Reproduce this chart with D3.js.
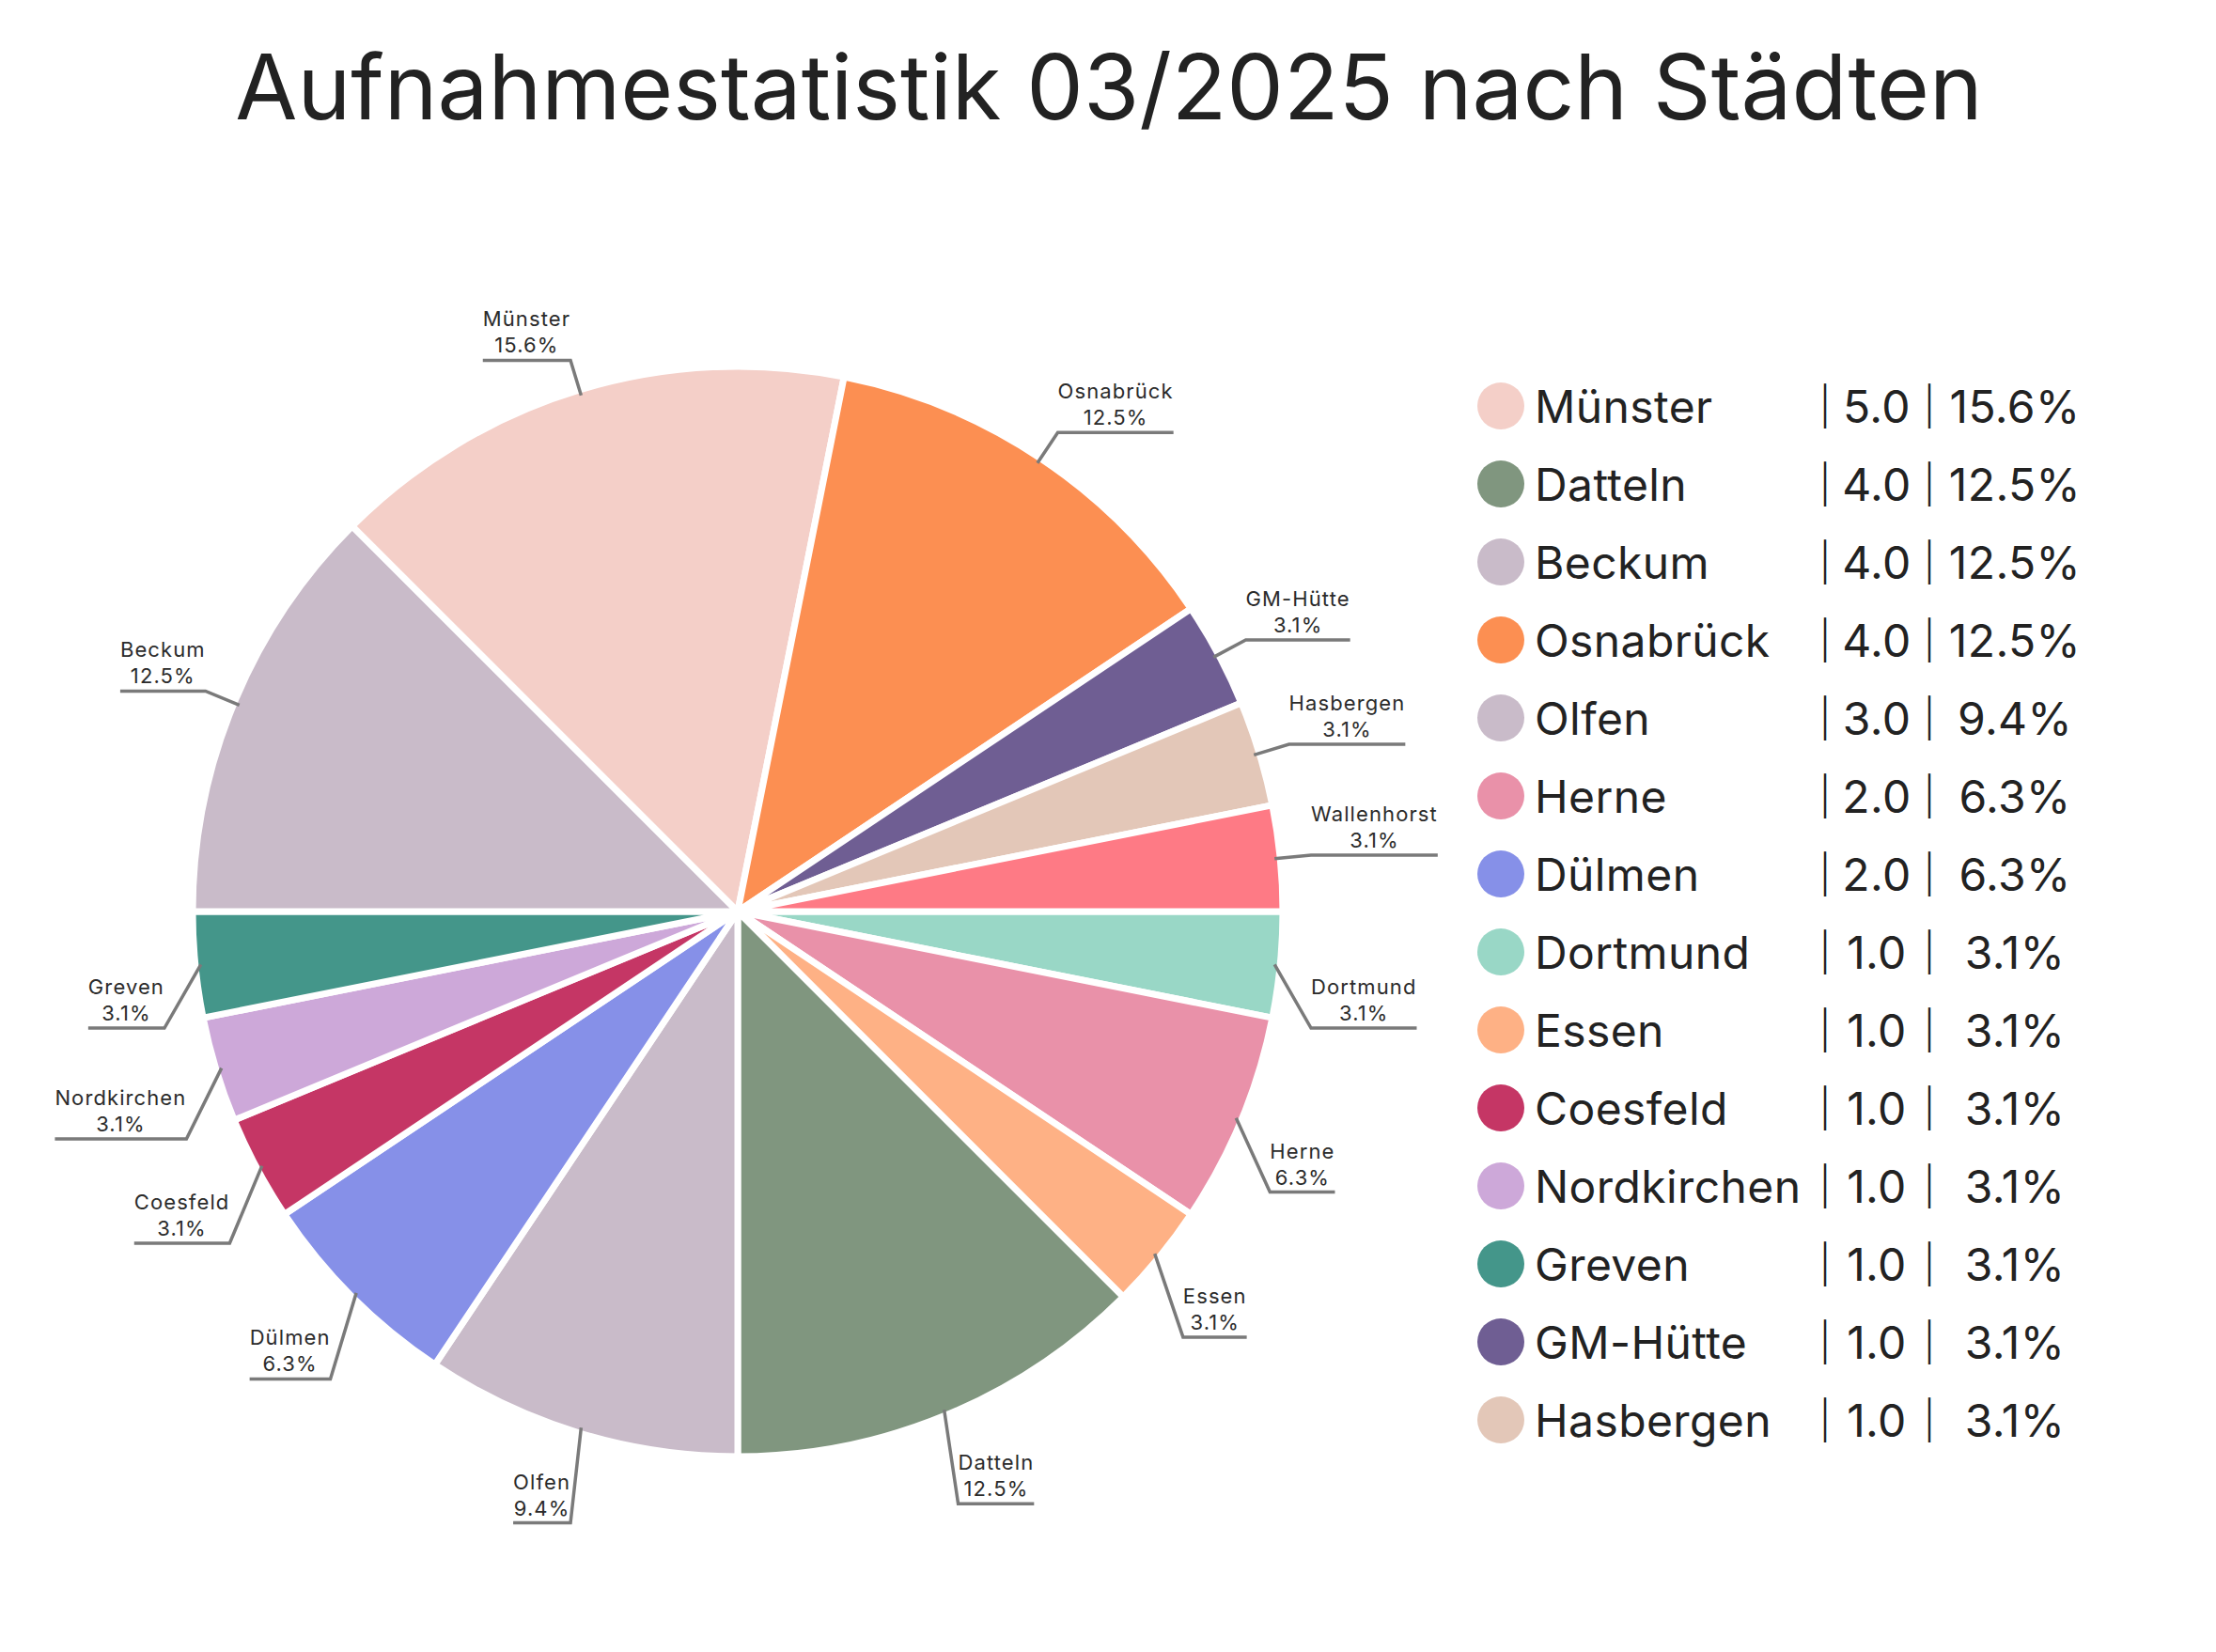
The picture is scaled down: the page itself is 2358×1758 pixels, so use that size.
<!DOCTYPE html>
<html lang="de">
<head>
    <meta charset="UTF-8">
    <title>Aufnahmestatistik 03/2025 nach Städten</title>

    <script src="https://d3js.org/d3.v7.min.js"></script>

    <style>
        body {
            margin: 0;
            background: #ffffff;
        }
        svg {
            display: block;
            font-family: Inter, "Noto Sans", sans-serif;
        }
        .title {
            font-size: 96px;
            fill: #222222;
        }
        .slice_label {
            font-size: 22px;
            letter-spacing: 1.1px;
            fill: #2b2b2b;
        }
        .legend_text {
            font-size: 48px;
            letter-spacing: 0.4px;
            fill: #222222;
        }
        .legend_sep {
            font-size: 40px;
            font-weight: 300;
            fill: #222222;
        }
    </style>
</head>

<body>
<svg width="2358" height="1758"></svg>

<script>

    // pie data, clockwise starting at 3 o'clock
    const cities = ["Dortmund", "Herne", "Essen", "Datteln", "Olfen", "Dülmen",
        "Coesfeld", "Nordkirchen", "Greven", "Beckum", "Münster", "Osnabrück",
        "GM-Hütte", "Hasbergen", "Wallenhorst"];
    const counts = [1, 2, 1, 4, 3, 2, 1, 1, 1, 4, 5, 4, 1, 1, 1];
    const colors = ["#99d7c6", "#e991a9", "#feb185", "#80967f", "#c9bbc9", "#8690e8",
        "#c53665", "#cda8d9", "#44968a", "#c9bbc9", "#f4cfc8", "#fc8f52",
        "#6f5e93", "#e3c7b8", "#fe7a85"];

    // legend (only the first 14 entries fit)
    const legendOrder = ["Münster", "Datteln", "Beckum", "Osnabrück", "Olfen", "Herne",
        "Dülmen", "Dortmund", "Essen", "Coesfeld", "Nordkirchen", "Greven",
        "GM-Hütte", "Hasbergen"];

    const titleText = "Aufnahmestatistik 03/2025 nach Städten";

    let svg = d3.select("svg");

    const cx = 785, cy = 970;
    const radius = 580;
    const total = d3.sum(counts);
    const pct = v => (v / total * 100).toFixed(1) + "%";

    svg.append("text")
        .attr("class", "title")
        .attr("x", 1180)
        .attr("y", 127)
        .attr("text-anchor", "middle")
        .text(titleText);

    const data = cities.map((c, i) => ({name: c, value: counts[i], color: colors[i]}));

    const pie = d3.pie()
        .sort(null)
        .value(d => d.value)
        .startAngle(Math.PI / 2)
        .endAngle(Math.PI / 2 + 2 * Math.PI);

    const arc = d3.arc().innerRadius(0).outerRadius(radius);

    const arcs = pie(data);

    let g = svg.append("g").attr("transform", `translate(${cx},${cy})`);

    g.selectAll("path.slice")
        .data(arcs)
        .enter()
        .append("path")
        .attr("class", "slice")
        .attr("d", arc)
        .attr("fill", d => d.data.color)
        .attr("stroke", "#ffffff")
        .attr("stroke-width", 7)
        .attr("stroke-linejoin", "miter");

    // labels with leader lines
    const rEdge = 574, rElbow = 613, drop = 64;

    arcs.forEach(function (d) {
        let mid = (d.startAngle + d.endAngle) / 2;
        let dx = Math.sin(mid), dy = -Math.cos(mid);
        let p0 = [dx * rEdge, dy * rEdge];
        let p1 = [dx * rElbow, dy * rElbow + (dy > 0 ? drop : 0)];
        let right = dx > 0;

        let lg = g.append("g");
        let t1 = lg.append("text").attr("class", "slice_label")
            .attr("text-anchor", "middle").text(d.data.name);
        let t2 = lg.append("text").attr("class", "slice_label")
            .attr("text-anchor", "middle").text(pct(d.data.value));
        let w = Math.max(t1.node().getComputedTextLength(), t2.node().getComputedTextLength());

        let x2 = right ? p1[0] + w : p1[0] - w;
        let tx = (p1[0] + x2) / 2;
        t1.attr("x", tx).attr("y", p1[1] - 36);
        t2.attr("x", tx).attr("y", p1[1] - 8);

        lg.append("path")
            .attr("d", d3.line()([p0, p1, [x2, p1[1]]]))
            .attr("fill", "none")
            .attr("stroke", "#7a7a7a")
            .attr("stroke-width", 3.5);
    });

    // legend
    const byName = {};
    data.forEach(d => byName[d.name] = d);

    let lgd = svg.append("g").attr("class", "legend");
    legendOrder.forEach(function (name, i) {
        let d = byName[name];
        let y = 450 + i * 83;
        lgd.append("circle")
            .attr("cx", 1597).attr("cy", y - 18).attr("r", 25)
            .attr("fill", d.color);
        lgd.append("text").attr("class", "legend_text")
            .attr("x", 1633).attr("y", y).text(name);
        lgd.append("text").attr("class", "legend_sep")
            .attr("x", 1942).attr("y", y - 3).attr("text-anchor", "middle")
            .text("|");
        lgd.append("text").attr("class", "legend_text")
            .attr("x", 1997).attr("y", y).attr("text-anchor", "middle")
            .text(d.value.toFixed(1));
        lgd.append("text").attr("class", "legend_sep")
            .attr("x", 2053).attr("y", y - 3).attr("text-anchor", "middle")
            .text("|");
        lgd.append("text").attr("class", "legend_text")
            .attr("x", 2144).attr("y", y).attr("text-anchor", "middle")
            .text(pct(d.value));
    });

</script>
</body>
</html>
